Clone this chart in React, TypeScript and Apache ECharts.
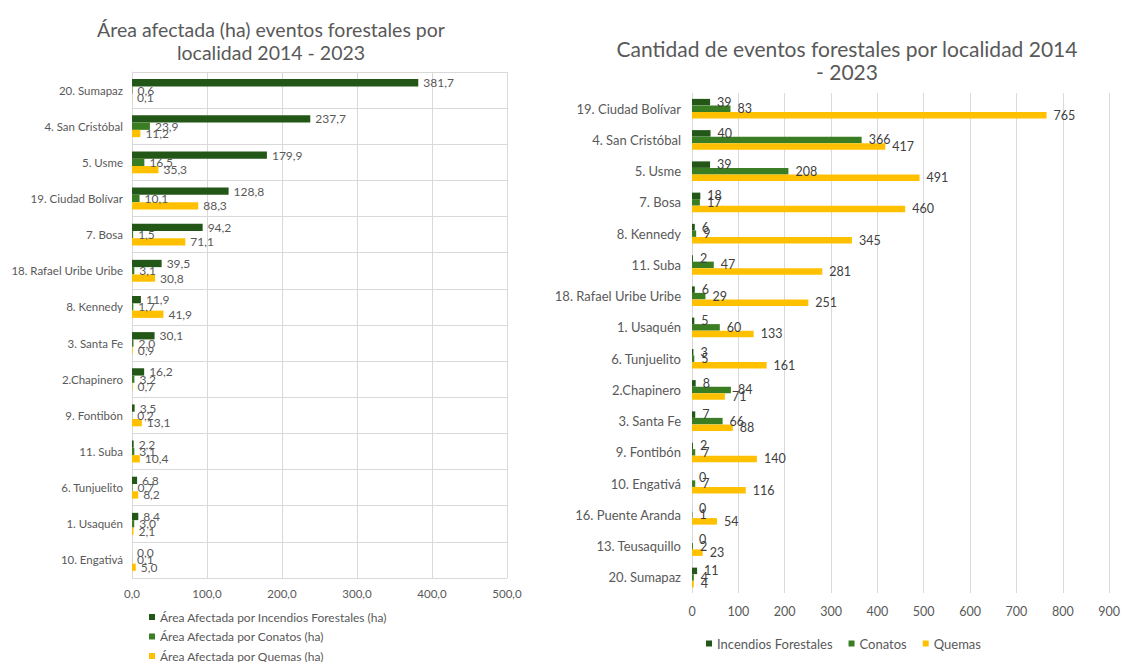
import React, { useEffect, useRef } from "react";
import * as echarts from "echarts";

const areaCategories = [
  "20. Sumapaz", "4. San Cristóbal", "5. Usme", "19. Ciudad Bolívar", "7. Bosa",
  "18. Rafael Uribe Uribe", "8. Kennedy", "3. Santa Fe", "2.Chapinero", "9. Fontibón",
  "11. Suba", "6. Tunjuelito", "1. Usaquén", "10. Engativá",
];
const areaIncendios = [381.7, 237.7, 179.9, 128.8, 94.2, 39.5, 11.9, 30.1, 16.2, 3.5, 2.2, 6.8, 8.4, 0.0];
const areaConatos = [0.6, 23.9, 16.5, 10.1, 1.5, 3.1, 1.7, 2.0, 3.2, 0.2, 3.1, 0.7, 3.0, 0.1];
const areaQuemas = [0.1, 11.2, 35.3, 88.3, 71.1, 30.8, 41.9, 0.9, 0.7, 13.1, 10.4, 8.2, 2.1, 5.0];

const countCategories = [
  "19. Ciudad Bolívar", "4. San Cristóbal", "5. Usme", "7. Bosa", "8. Kennedy", "11. Suba",
  "18. Rafael Uribe Uribe", "1. Usaquén", "6. Tunjuelito", "2.Chapinero", "3. Santa Fe",
  "9. Fontibón", "10. Engativá", "16. Puente Aranda", "13. Teusaquillo", "20. Sumapaz",
];
const countIncendios = [39, 40, 39, 18, 6, 2, 6, 5, 3, 8, 7, 2, 0, 0, 0, 11];
const countConatos = [83, 366, 208, 17, 9, 47, 29, 60, 5, 84, 66, 7, 7, 1, 2, 4];
const countQuemas = [765, 417, 491, 460, 345, 281, 251, 133, 161, 71, 88, 140, 116, 54, 23, 4];

const leftLegend = [
  "Área Afectada por Incendios Forestales (ha)",
  "Área Afectada por Conatos (ha)",
  "Área Afectada por Quemas (ha)",
];
const rightLegend = ["Incendios Forestales", "Conatos", "Quemas"];

const COLORS = ["#235717", "#3B7D23", "#FFC000"];
const FONT = "Lato";
const GRAY = "#595959";

const fmtComma = (v: number) => v.toFixed(1).replace(".", ",");

export default function App() {
  const ref = useRef<HTMLDivElement>(null);
  useEffect(() => {
    if (!ref.current) return;
    const chart = echarts.init(ref.current, undefined, { renderer: "svg" });

    const leftSeries = [areaIncendios, areaConatos, areaQuemas].map((d, i) => ({
      name: leftLegend[i],
      type: "bar",
      xAxisIndex: 0,
      yAxisIndex: 0,
      data: d,
      barWidth: 7.3,
      barGap: "0%",
      itemStyle: { color: COLORS[i] },
      label: {
        show: true,
        position: "right",
        distance: 5,
        color: GRAY,
        fontFamily: FONT,
        fontSize: 12,
        formatter: (p: any) => fmtComma(p.value),
      },
    }));
    const rightSeries = [countIncendios, countConatos, countQuemas].map((d, i) => ({
      name: rightLegend[i],
      type: "bar",
      xAxisIndex: 1,
      yAxisIndex: 1,
      data: d,
      barWidth: 6.5,
      barGap: "0%",
      itemStyle: { color: COLORS[i] },
      label: {
        show: true,
        position: "right",
        distance: 7,
        color: "#404040",
        fontFamily: FONT,
        fontSize: 12.5,
      },
    }));

    const leftLegendTops = [606, 625.5, 645];
    const leftLegends = leftLegend.map((name, i) => ({
      data: [name],
      orient: "vertical",
      left: 144,
      top: leftLegendTops[i],
      itemWidth: 6,
      itemHeight: 6,
      icon: "rect",
      textStyle: { fontFamily: FONT, fontSize: 12, color: GRAY },
    }));

    chart.setOption({
      animation: false,
      backgroundColor: "#ffffff",
      textStyle: { fontFamily: FONT },
      title: [
        {
          text: "Área afectada (ha) eventos forestales por\nlocalidad 2014 - 2023",
          left: 266,
          top: 13,
          textAlign: "center",
          textStyle: { fontFamily: FONT, fontSize: 19.5, fontWeight: "normal", color: GRAY, lineHeight: 23 },
        },
        {
          text: "Cantidad de eventos forestales por localidad 2014\n- 2023",
          left: 842,
          top: 32,
          textAlign: "center",
          textStyle: { fontFamily: FONT, fontSize: 21, fontWeight: "normal", color: GRAY, lineHeight: 23 },
        },
      ],
      legend: [
        ...leftLegends,
        {
          data: rightLegend,
          orient: "horizontal",
          left: 701,
          top: 632,
          itemWidth: 6,
          itemHeight: 6,
          itemGap: 16,
          icon: "rect",
          textStyle: { fontFamily: FONT, fontSize: 13, color: GRAY },
        },
      ],
      grid: [
        { left: 132, right: 616, top: 72, bottom: 84, containLabel: false },
        { left: 692, right: 10, top: 93, bottom: 69, containLabel: false },
      ],
      xAxis: [
        {
          gridIndex: 0,
          type: "value",
          min: 0,
          max: 500,
          interval: 100,
          axisLine: { show: false },
          axisTick: { show: false },
          splitLine: { show: true, lineStyle: { color: "#d9d9d9" } },
          axisLabel: { color: GRAY, fontFamily: FONT, fontSize: 11.5, margin: 9, formatter: fmtComma },
        },
        {
          gridIndex: 1,
          type: "value",
          min: 0,
          max: 900,
          interval: 100,
          axisLine: { show: false },
          axisTick: { show: false },
          splitLine: { show: true, lineStyle: { color: "#d9d9d9" } },
          axisLabel: { color: GRAY, fontFamily: FONT, fontSize: 12.5, margin: 12 },
        },
      ],
      yAxis: [
        {
          gridIndex: 0,
          type: "category",
          data: areaCategories,
          inverse: true,
          axisLine: { show: true, lineStyle: { color: "#d9d9d9" } },
          axisTick: { show: false },
          splitLine: { show: true, lineStyle: { color: "#d9d9d9" } },
          axisLabel: { color: GRAY, fontFamily: FONT, fontSize: 11.5, margin: 9 },
        },
        {
          gridIndex: 1,
          type: "category",
          data: countCategories,
          inverse: true,
          axisLine: { show: false },
          axisTick: { show: false },
          splitLine: { show: false },
          axisLabel: { color: GRAY, fontFamily: FONT, fontSize: 13, margin: 11 },
        },
      ],
      series: [...leftSeries, ...rightSeries],
    });
    return () => chart.dispose();
  }, []);
  return (
    <div
      ref={ref}
      style={{ position: "fixed", left: 0, top: 0, width: 1123, height: 662, background: "#fff" }}
    />
  );
}
